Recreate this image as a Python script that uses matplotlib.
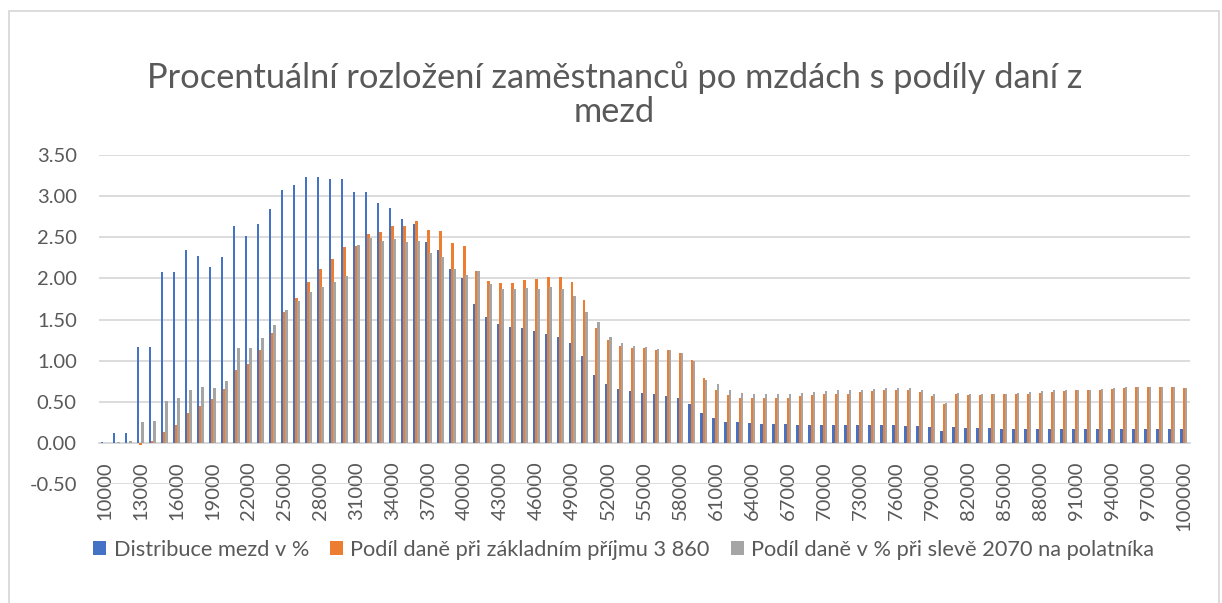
import numpy as np
import matplotlib
matplotlib.use("Agg")
import matplotlib.pyplot as plt
from matplotlib.patches import Rectangle

plt.rcParams['font.family'] = ['Lato', 'DejaVu Sans']

# mzdy 10000 .. 100000 po 1000
mzdy = [str(m) for m in range(10000, 100001, 1000)]

distribuce = [
    0.01, 0.12, 0.12, 1.17, 1.17, 2.08, 2.08, 2.34, 2.27, 2.14,
    2.26, 2.64, 2.52, 2.66, 2.84, 3.08, 3.14, 3.23, 3.23, 3.21,
    3.21, 3.05, 3.05, 2.92, 2.85, 2.72, 2.66, 2.44, 2.34, 2.11,
    2.00, 1.69, 1.53, 1.45, 1.41, 1.40, 1.36, 1.33, 1.29, 1.22,
    1.06, 0.83, 0.72, 0.66, 0.63, 0.61, 0.59, 0.57, 0.55, 0.48,
    0.37, 0.30, 0.26, 0.25, 0.24, 0.23, 0.23, 0.23, 0.22, 0.22,
    0.22, 0.22, 0.22, 0.22, 0.22, 0.22, 0.22, 0.21, 0.21, 0.19,
    0.15, 0.19, 0.18, 0.18, 0.18, 0.17, 0.17, 0.17, 0.17, 0.17,
    0.17, 0.17, 0.17, 0.17, 0.17, 0.17, 0.17, 0.17, 0.17, 0.17,
    0.17]

dan_zaklad = [
    0.00, 0.00, 0.00, -0.02, 0.02, 0.13, 0.22, 0.36, 0.45, 0.53,
    0.66, 0.89, 0.96, 1.13, 1.34, 1.59, 1.76, 1.96, 2.11, 2.24,
    2.38, 2.40, 2.54, 2.56, 2.64, 2.64, 2.70, 2.59, 2.58, 2.43,
    2.39, 2.09, 1.97, 1.94, 1.95, 1.98, 1.99, 2.02, 2.02, 1.96,
    1.74, 1.40, 1.25, 1.18, 1.15, 1.15, 1.13, 1.13, 1.10, 1.01,
    0.79, 0.64, 0.58, 0.55, 0.55, 0.55, 0.55, 0.55, 0.57, 0.58,
    0.59, 0.60, 0.60, 0.62, 0.63, 0.64, 0.64, 0.64, 0.62, 0.57,
    0.47, 0.59, 0.58, 0.58, 0.59, 0.59, 0.60, 0.60, 0.61, 0.62,
    0.63, 0.64, 0.64, 0.65, 0.66, 0.67, 0.68, 0.68, 0.68, 0.68,
    0.67]

dan_sleva = [
    0.00, 0.01, 0.02, 0.25, 0.27, 0.51, 0.55, 0.65, 0.68, 0.67,
    0.75, 1.16, 1.16, 1.28, 1.43, 1.62, 1.72, 1.83, 1.90, 1.96,
    2.03, 2.41, 2.49, 2.46, 2.48, 2.44, 2.45, 2.31, 2.26, 2.11,
    2.04, 2.09, 1.93, 1.87, 1.87, 1.88, 1.87, 1.89, 1.87, 1.79,
    1.59, 1.47, 1.29, 1.21, 1.18, 1.17, 1.14, 1.13, 1.10, 1.00,
    0.77, 0.72, 0.64, 0.61, 0.60, 0.60, 0.60, 0.60, 0.61, 0.62,
    0.63, 0.64, 0.64, 0.65, 0.66, 0.67, 0.67, 0.67, 0.64, 0.60,
    0.49, 0.61, 0.60, 0.60, 0.60, 0.60, 0.61, 0.62, 0.63, 0.64,
    0.64, 0.64, 0.65, 0.66, 0.67, 0.68, 0.68, 0.68, 0.68, 0.68,
    0.67]

nazvy = ['Distribuce mezd v %',
         'Podíl daně při základním příjmu 3 860',
         'Podíl daně v % při slevě 2070 na polatníka']
barvy = ['#4472c4', '#ed7d31', '#a5a5a5']
text_c = '#595959'
grid_c = '#d9d9d9'

fig = plt.figure(figsize=(12.22, 6.03), dpi=100)
ax = fig.add_axes([0.081, 0.197, 0.893, 0.546])

x = np.arange(len(mzdy))
w = 0.2
ax.bar(x - 0.24, distribuce, w, color=barvy[0], label=nazvy[0], zorder=3)
ax.bar(x - 0.03, dan_zaklad, w, color=barvy[1], label=nazvy[1], zorder=3)
ax.bar(x + 0.14, dan_sleva, w, color=barvy[2], label=nazvy[2], zorder=3)

ax.set_xlim(-0.5, len(mzdy) - 0.5)
ax.set_ylim(-0.5, 3.5)
yt = np.arange(-0.5, 3.51, 0.5)
ax.set_yticks(yt)
ax.set_yticklabels(['%.2f' % v for v in yt])
ax.yaxis.grid(True, color=grid_c, linewidth=1.3, zorder=0)
ax.set_axisbelow(True)

ax.set_xticks(x[::3])
ax.set_xticklabels(mzdy[::3])

for s in ['top', 'right', 'left']:
    ax.spines[s].set_visible(False)
ax.spines['bottom'].set_position(('data', 0))
ax.spines['bottom'].set_color(grid_c)
ax.spines['bottom'].set_linewidth(1.3)
ax.spines['bottom'].set_zorder(2)

ax.tick_params(axis='both', length=0, labelsize=14.5, labelcolor=text_c)
ax.tick_params(axis='x', pad=13, labelrotation=90)
ax.tick_params(axis='y', pad=16)

fig.text(0.503, 0.843, 'Procentuální rozložení zaměstnanců po mzdách s podíly daní z\nmezd',
         ha='center', va='center', fontsize=24.75, color=text_c, linespacing=1.1)

ax.legend(loc='center left', bbox_to_anchor=(-0.0135, -0.2), ncol=3, frameon=False,
          fontsize=15.7, labelcolor=text_c, handlelength=0.6, handleheight=0.6,
          handletextpad=0.35, columnspacing=0.95, borderaxespad=0)

fig.patches.append(Rectangle((9 / 1222, -0.05), 1210 / 1222, 1.05 - 11 / 603,
                             transform=fig.transFigure, fill=False,
                             edgecolor=grid_c, linewidth=1.3))

fig.savefig('out.png', dpi=100)
